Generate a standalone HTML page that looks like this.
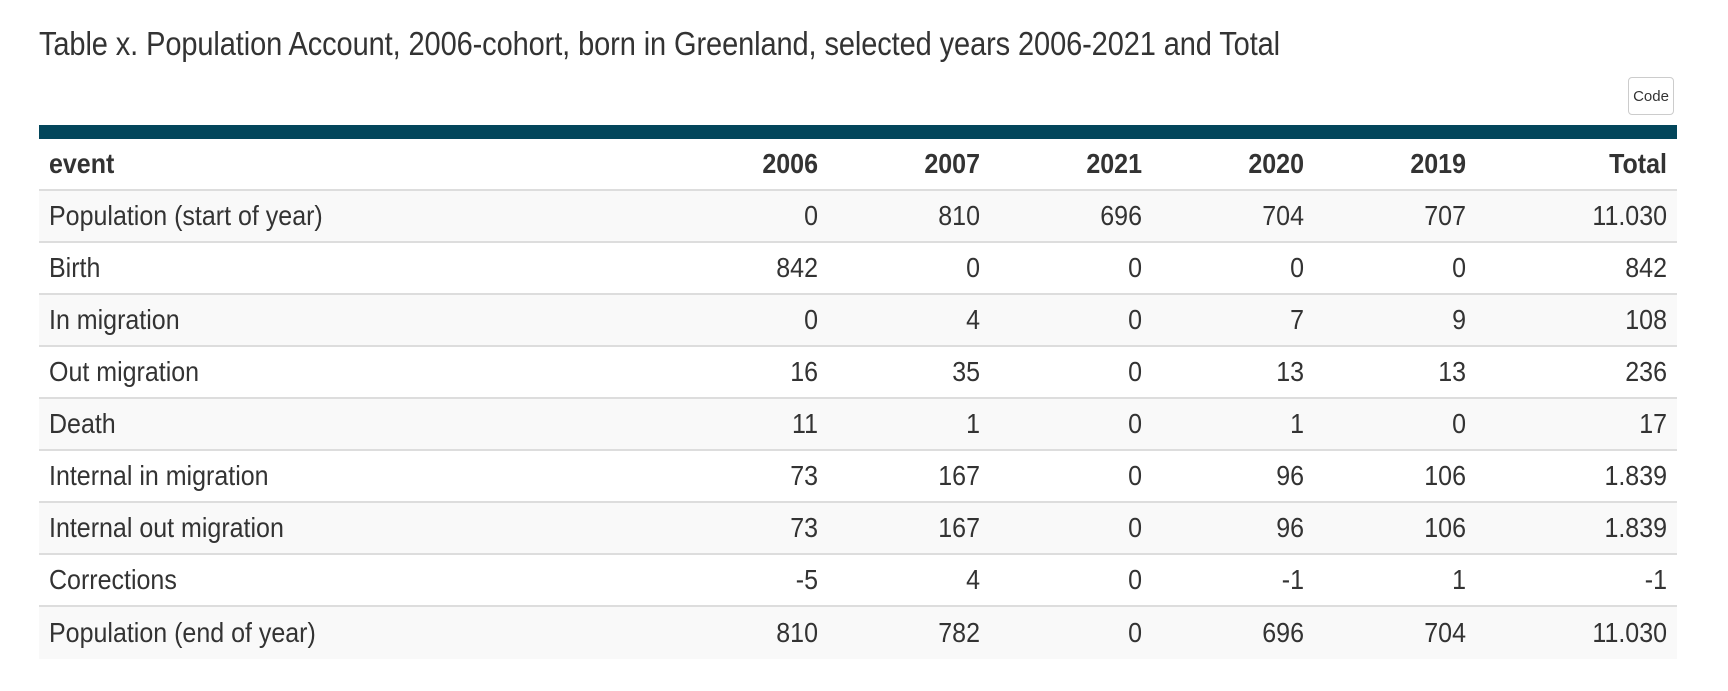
<!DOCTYPE html>
<html><head><meta charset="utf-8"><style>
html,body{margin:0;padding:0;background:#fff;width:1728px;height:691px;overflow:hidden;font-family:"Liberation Sans",Arial,sans-serif;color:#333}
#title{position:absolute;left:39px;top:26px;font-size:29px;color:#333;white-space:nowrap;transform:scaleY(1.15);transform-origin:left top;letter-spacing:-0.1px}
#code{position:absolute;left:1628px;top:77px;width:46px;height:38px;border:1px solid #ccc;border-radius:4px;font-size:15px;display:flex;align-items:center;justify-content:center;color:#333;box-sizing:border-box}
#bar{position:absolute;left:39px;top:125px;width:1638px;height:14px;background:#03465b}
table{position:absolute;left:39px;top:139px;width:1638px;border-collapse:collapse;font-size:25px;table-layout:fixed}
td,th{padding:0 10px;height:50px;border-bottom:2px solid #ddd;text-align:right;white-space:nowrap}
th{font-weight:bold}
td:first-child,th:first-child{text-align:left}
tbody tr:nth-child(odd){background:#f9f9f9}
tbody tr:last-child td{border-bottom:none;height:52px}
span{display:inline-block;transform:scaleY(1.12)}
</style></head><body>
<div id="title">Table x. Population Account, 2006-cohort, born in Greenland, selected years 2006-2021 and Total</div>
<div id="code">Code</div>
<div id="bar"></div>
<table>
<colgroup><col style="width:627px"><col style="width:162px"><col style="width:162px"><col style="width:162px"><col style="width:162px"><col style="width:162px"><col style="width:201px"></colgroup>
<thead><tr><th><span>event</span></th><th><span>2006</span></th><th><span>2007</span></th><th><span>2021</span></th><th><span>2020</span></th><th><span>2019</span></th><th><span>Total</span></th></tr></thead>
<tbody id="tb"></tbody></table>
<script>
const events=["Population (start of year)","Birth","In migration","Out migration","Death","Internal in migration","Internal out migration","Corrections","Population (end of year)"];
const v2006=["0","842","0","16","11","73","73","-5","810"];
const v2007=["810","0","4","35","1","167","167","4","782"];
const v2021=["696","0","0","0","0","0","0","0","0"];
const v2020=["704","0","7","13","1","96","96","-1","696"];
const v2019=["707","0","9","13","0","106","106","1","704"];
const vTotal=["11.030","842","108","236","17","1.839","1.839","-1","11.030"];
const tb=document.getElementById('tb');
events.forEach((e,i)=>{
 const tr=document.createElement('tr');
 
 
 [e,v2006[i],v2007[i],v2021[i],v2020[i],v2019[i],vTotal[i]].forEach(t=>{
  const td=document.createElement('td');
  td.innerHTML='<span>'+t+'</span>';
  tr.appendChild(td);
 });
 tb.appendChild(tr);
});
</script>
</body></html>
